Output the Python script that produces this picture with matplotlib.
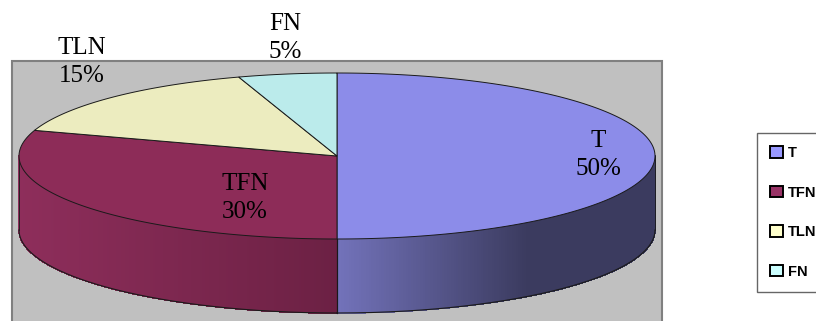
import numpy as np
import matplotlib.pyplot as plt
from matplotlib.patches import Polygon, Rectangle, Patch
from matplotlib.colors import to_rgb

labels = ["T", "TFN", "TLN", "FN"]
values = [50, 30, 15, 5]
top_colors = ["#8c8ce9", "#8d2c58", "#ececbf", "#bbebeb"]
legend_colors = ["#9999ff", "#993366", "#ffffcc", "#ccffff"]
# side shading: (colour near the centre line, colour at the outer edge)
side_colors = {"T": ("#7373bb", "#3b3b5f"), "TFN": ("#6c2144", "#8e2e5b")}
label_xy = [(598, 155), (245, 198), (82, 62), (285, 38)]

# pie geometry in pixel units
cx, cy, a, b, depth = 337, 156, 318, 83, 74

fig = plt.figure(figsize=(8.16, 3.21), dpi=100)
ax = fig.add_axes([0, 0, 1, 1])
ax.set_xlim(0, 816)
ax.set_ylim(321, 0)
ax.axis("off")

ax.add_patch(Rectangle((12, 61), 650, 280, facecolor="#c0c0c0",
                       edgecolor="#808080", lw=1.5, zorder=0))


def pt(theta, dy=0):
    t = np.radians(theta)
    return cx + a * np.cos(t), cy - b * np.sin(t) + dy


# angles: start at 90 deg (12 o'clock), go clockwise
bounds = [90.0]
for v in values:
    bounds.append(bounds[-1] - 360.0 * v / sum(values))

# side faces (only the front half, angles between -180 and 0)
for lab, start, end in zip(labels, bounds[:-1], bounds[1:]):
    lo, hi = end, start
    segs = []
    for shift in (0, -360, 360):
        s0, s1 = max(lo + shift, -180), min(hi + shift, 0)
        if s1 > s0:
            segs.append((s0, s1))
    for s0, s1 in segs:
        c_in, c_out = (np.array(to_rgb(c)) for c in side_colors[lab])
        th = np.linspace(s0, s1, 200)
        for t0, t1 in zip(th[:-1], th[1:]):
            xm = abs(np.cos(np.radians((t0 + t1) / 2)))
            f = min(xm / 0.6, 1.0) if lab == "T" else xm
            col = c_in + (c_out - c_in) * f
            p0, p1 = pt(t0), pt(t1)
            ax.add_patch(Polygon([p0, p1, (p1[0], p1[1] + depth), (p0[0], p0[1] + depth)],
                                 closed=True, facecolor=col, edgecolor=col, lw=0.5,
                                 antialiased=False, zorder=1))
        xs, ys = zip(*[pt(t, depth) for t in np.linspace(s0, s1, 200)])
        ax.plot(xs, ys, color="#1a1a1a", lw=0.8, zorder=2)
        for t in (s0, s1):
            x0, y0 = pt(t)
            if abs(np.cos(np.radians(t))) < 0.999:
                ax.plot([x0, x0], [y0, y0 + depth], color="#1a1a1a", lw=0.8, zorder=2)

# outer vertical edges at left and right extremes
for t in (0, 180):
    x0, y0 = pt(t)
    ax.plot([x0, x0], [y0, y0 + depth], color="#1a1a1a", lw=0.6, zorder=2)

# top faces
for lab, col, start, end in zip(labels, top_colors, bounds[:-1], bounds[1:]):
    th = np.linspace(start, end, 200)
    verts = [(cx, cy)] + [pt(t) for t in th]
    ax.add_patch(Polygon(verts, closed=True, facecolor=col, edgecolor="#1a1a1a",
                         lw=0.7, zorder=3))

for lab, v, (x, y) in zip(labels, values, label_xy):
    ax.text(x, y, f"{lab}\n{v}%", ha="center", va="center", fontsize=18,
            family="Liberation Serif", linespacing=1.3, zorder=5)

handles = [Patch(facecolor=c, edgecolor="black", lw=1.4) for c in legend_colors]
leg = ax.legend(handles, labels, loc="upper left", bbox_to_anchor=(757 / 816, 1 - 133 / 321),
                prop={"family": "Liberation Sans", "weight": "bold", "size": 10.5},
                handlelength=0.85, handleheight=0.85, handletextpad=0.4,
                labelspacing=1.75, borderpad=0.9, borderaxespad=0, fancybox=False)
leg.get_frame().set_edgecolor("#404040")
leg.get_frame().set_linewidth(1.0)

fig.savefig("out.png", dpi=100)
